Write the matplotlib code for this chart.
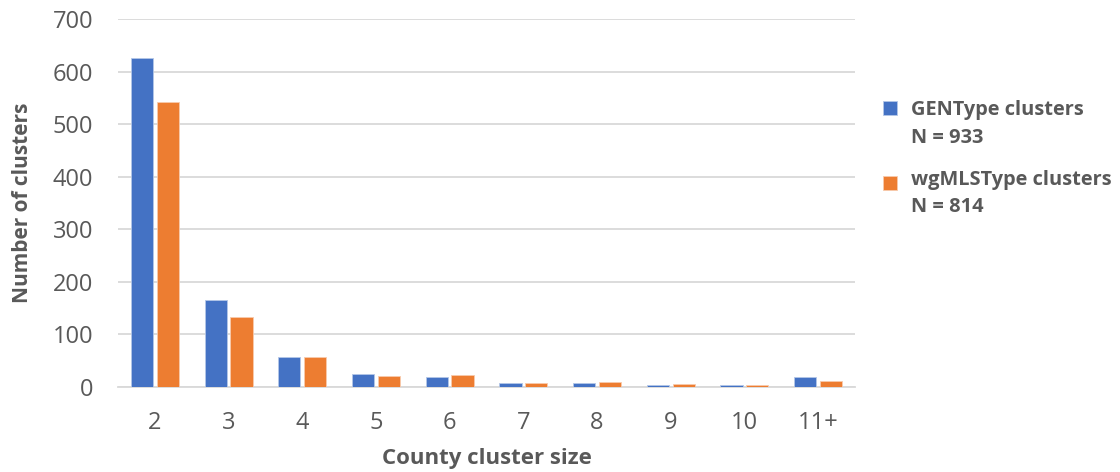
import matplotlib
matplotlib.use("Agg")
import matplotlib.pyplot as plt
from matplotlib.patches import Rectangle
import numpy as np

categories = ["2", "3", "4", "5", "6", "7", "8", "9", "10", "11+"]
gentype = [626, 165, 57, 25, 19, 8, 8, 3, 3, 19]
wgmlst = [542, 133, 57, 20, 23, 8, 10, 5, 4, 12]
series_names = ["GENType clusters", "wgMLSType clusters"]
series_n = ["N = 933", "N = 814"]
series_colors = ["#4472C4", "#ED7D31"]
edge_colors = ["#B4C7E7", "#F8CBAD"]
yticks = [0, 100, 200, 300, 400, 500, 600, 700]

plt.rcParams['font.family'] = ['Open Sans', 'DejaVu Sans']
text_color = "#595959"

W, H = 1120, 472
fig = plt.figure(figsize=(11.2, 4.72), dpi=100)
ax = fig.add_axes([118 / W, 1 - 387 / H, (855 - 118) / W, (387 - 19) / H])

x = np.arange(len(categories))
w = 0.3
gap = 0.05
ax.bar(x - (w + gap) / 2, gentype, width=w, color=series_colors[0], edgecolor=edge_colors[0],
       linewidth=0.6, zorder=3)
ax.bar(x + (w + gap) / 2, wgmlst, width=w, color=series_colors[1], edgecolor=edge_colors[1],
       linewidth=0.6, zorder=3)

ax.set_xlim(-0.5, len(categories) - 0.5)
ax.set_ylim(0, 700)
ax.set_yticks(yticks)
ax.set_xticks(x)
ax.set_xticklabels(categories)
ax.yaxis.grid(True, color="#D9D9D9", linewidth=1.3, zorder=0)
ax.set_axisbelow(True)
for s in ["top", "right", "left"]:
    ax.spines[s].set_visible(False)
ax.spines["bottom"].set_color("#D9D9D9")
ax.spines["bottom"].set_linewidth(1.3)
ax.tick_params(axis="both", length=0, labelsize=17, colors=text_color)
ax.tick_params(axis="x", pad=17)
ax.tick_params(axis="y", pad=18)

ax.set_xlabel("County cluster size", fontsize=16, fontweight="bold", color=text_color)
ax.set_ylabel("Number of clusters", fontsize=15, fontweight="bold", color=text_color)
ax.xaxis.set_label_coords(0.5, -0.167)
ax.yaxis.set_label_coords(-0.115, 0.5)

# legend (manual, to keep the marker aligned with the first line of each entry)
legend_rows = [(101, 115, 143), (176, 185, 212)]  # marker top, line1 baseline, line2 baseline (px)
for i, (mt, b1, b2) in enumerate(legend_rows):
    fig.patches.append(Rectangle((883 / W, 1 - (mt + 14) / H), 14 / W, 14 / H,
                                 transform=fig.transFigure, facecolor=series_colors[i],
                                 edgecolor=edge_colors[i], linewidth=0.6))
    fig.text(911 / W, 1 - b1 / H, series_names[i], fontsize=14.4, fontweight="bold",
             color=text_color, ha="left", va="baseline")
    fig.text(911 / W, 1 - b2 / H, series_n[i], fontsize=14.4, fontweight="bold",
             color=text_color, ha="left", va="baseline")

fig.savefig("out.png", dpi=100)
